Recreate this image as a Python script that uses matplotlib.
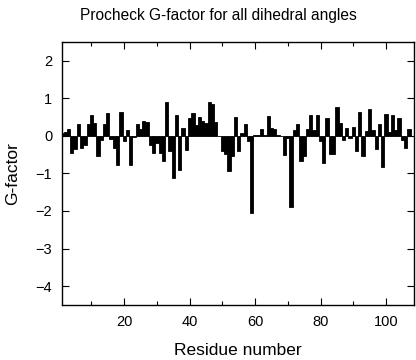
import matplotlib
matplotlib.use("Agg")
import matplotlib.pyplot as plt
from matplotlib.ticker import MultipleLocator

plt.rcParams["font.family"] = ["Liberation Sans", "DejaVu Sans"]

# G-factor per residue
residues = list(range(1, 108))
gfactor = [
    0.08, 0.10, 0.18, -0.47, -0.35, 0.30, -0.33, -0.24, 0.30, 0.55,
    0.33, -0.55, -0.10, 0.30, 0.60, -0.09, -0.33, -0.77, 0.63, -0.15,
    0.14, -0.78, -0.03, 0.30, 0.18, 0.40, 0.37, -0.24, -0.47, -0.20,
    -0.46, -0.68, 0.90, -0.41, -1.12, 0.55, -0.92, 0.20, -0.37, 0.48,
    0.60, 0.28, 0.50, 0.38, 0.35, 0.89, 0.84, 0.37, -0.02, -0.41,
    -0.48, -0.94, -0.55, 0.50, -0.40, 0.08, 0.30, -0.13, -2.06, 0.02,
    0.03, 0.18, 0.03, 0.53, 0.20, 0.18, 0.02, -0.02, -0.50, -0.07,
    -1.90, 0.16, 0.32, -0.68, -0.55, 0.18, 0.55, 0.16, 0.55, -0.15,
    -0.72, 0.47, -0.48, -0.48, 0.76, 0.33, -0.12, 0.20, -0.06, 0.24,
    -0.41, 0.64, -0.53, 0.12, 0.70, 0.15, -0.36, 0.32, -0.82, 0.58,
    0.10, 0.55, 0.15, 0.48, -0.10, -0.33, 0.18,
]

fig = plt.figure(figsize=(4.16, 3.60), dpi=100)
ax = fig.add_axes([0.149, 0.153, 0.845, 0.731])

ax.bar(residues, gfactor, width=1.0, color="black",
       edgecolor="black", linewidth=0.6)

ax.set_xlim(1, 108.4)
ax.set_ylim(-4.5, 2.5)

ax.xaxis.set_major_locator(MultipleLocator(20))
ax.xaxis.set_minor_locator(MultipleLocator(10))
ax.yaxis.set_major_locator(MultipleLocator(1))

ax.tick_params(which="both", direction="in", top=True, right=True,
               labelsize=10.5, width=0.8)
ax.tick_params(which="major", length=5, pad=7)
ax.tick_params(which="minor", length=3)

for s in ax.spines.values():
    s.set_linewidth(1.0)

fig.text(0.524, 0.958, "Procheck G-factor for all dihedral angles",
         fontsize=11.2, ha="center", va="center")
ax.set_xlabel("Residue number", fontsize=12.5, labelpad=10)
ax.set_ylabel("G-factor", fontsize=12.5, labelpad=11)

fig.savefig("out.png", dpi=100)
